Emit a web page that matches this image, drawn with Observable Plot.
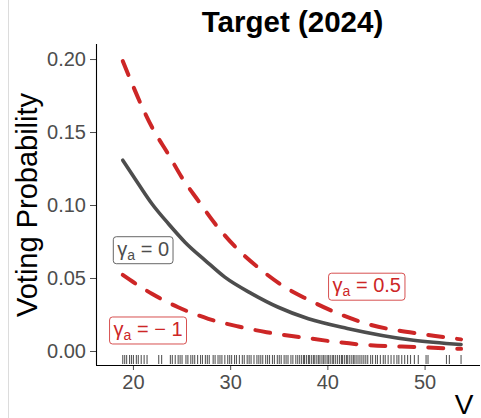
<!DOCTYPE html>
<html><head><meta charset="utf-8">
<script src="https://cdn.jsdelivr.net/npm/d3@7"></script>
<script src="https://cdn.jsdelivr.net/npm/@observablehq/plot@0.6"></script>
<style>
html,body{margin:0;padding:0;background:#fff;}
#wrap{position:relative;width:481px;height:418px;overflow:hidden;}
#edge{position:absolute;left:8px;top:0;width:1px;height:418px;background:#dcdcdc;}
#wrap svg{position:absolute;left:0;top:0;}
</style></head><body><div id="wrap"><div id="edge"></div></div>
<script>
// ---- text ----
const title = "Target (2024)";
const xLabel = "V";
const yLabel = "Voting Probability";
const xTicks = [20, 30, 40, 50];
const yTicks = [0, 0.05, 0.10, 0.15, 0.20];
const yTickLabels = ["0.00", "0.05", "0.10", "0.15", "0.20"];

// ---- curves ----
const vHigh = [18.9, 22.0, 23.6, 25.0, 26.7, 28.4, 30.5, 32.8, 35.6, 37.8, 44.0, 50.2, 53.7];
const pHigh = [0.199, 0.1525, 0.135, 0.119, 0.103, 0.0875, 0.0715, 0.0577, 0.044, 0.0361, 0.019, 0.0114, 0.0083];
const vZero = [18.9, 20.5, 21.9, 23.6, 25.3, 27.4, 29.4, 32.2, 34.9, 38.0, 42.0, 48.8, 53.7];
const pZero = [0.131, 0.1149, 0.1012, 0.0875, 0.0749, 0.0623, 0.0509, 0.0395, 0.0303, 0.0224, 0.0158, 0.0077, 0.0048];
const vLow = [18.9, 21.9, 24.6, 27.7, 30.8, 33.7, 37.2, 43.3, 49.5, 53.7];
const pLow = [0.0525, 0.0395, 0.0303, 0.0224, 0.0171, 0.0132, 0.0098, 0.0048, 0.0029, 0.0018];

// ---- curve labels ----
const labelSym = ["γ", "γ", "γ"];
const labelSub = ["a", "a", "a"];
const labelVal = ["0", "0.5", "\u2212 1"];
const labelV = [21.0, 44.0, 21.5];
const labelP = [0.070, 0.045, 0.015];
const labelKind = ["zero", "red", "red"];

// ---- rug of observed V ----
const rugV = [18.9, 19.1, 19.3, 19.6, 19.8, 20.0, 20.3, 20.5, 20.8, 21.1, 21.4,
  22.6, 22.9,
  23.8, 24.0, 24.3, 24.6, 24.8, 25.0, 25.4, 25.6, 25.9, 26.1, 26.3, 26.6, 26.9,
  27.1, 27.4, 27.6, 27.8, 28.2, 28.4, 28.7, 28.9, 29.1, 29.4, 29.7,
  29.9, 30.1, 30.4, 30.6, 30.9, 31.2, 31.4, 31.7, 31.9, 32.1, 32.4, 32.7,
  32.9, 33.1, 33.3, 33.6, 33.8, 34.0, 34.3, 34.5, 34.8,
  35.0, 35.2, 35.5, 35.7, 35.9, 36.2, 36.4, 36.7, 36.9, 37.1,
  37.3, 37.5, 37.6, 37.8, 38.0, 38.1, 38.3, 38.5, 38.6, 38.8, 39.0, 39.1, 39.3, 39.5, 39.6, 39.8,
  40.0, 40.1, 40.3, 40.5, 40.6, 40.8, 41.0, 41.2,
  41.4, 41.5, 41.7, 41.9, 42.0, 42.2, 42.4, 42.6, 42.7, 42.9, 43.1, 43.3, 43.5, 43.7, 43.9,
  44.1, 44.4, 44.6, 44.9, 45.1, 45.4, 45.7, 45.9, 46.2, 46.5, 46.8, 47.1, 47.3,
  47.6, 47.9, 48.2, 48.5, 48.9, 49.3,
  50.1, 50.3,
  52.2, 52.5,
  53.7];

const xDomain = [16.2, 55.7];
const yDomain = [-0.0096, 0.2103];
const red = "#cd2626";
const dark = "#4d4d4d";

const toRows = (V, P) => V.map((v, i) => ({v, p: P[i]}));
const labels = labelV.map((v, i) => ({v, p: labelP[i], text: labelSym[i] + labelSub[i] + " = " + labelVal[i], kind: labelKind[i], i}));

const chart = Plot.plot({
  width: 481, height: 418,
  marginLeft: 96, marginRight: 1, marginTop: 44, marginBottom: 53,
  x: {domain: xDomain},
  y: {domain: yDomain},
  style: {fontFamily: "'Liberation Sans', Arial, Helvetica, sans-serif", background: "transparent", overflow: "visible"},
  marks: [
    Plot.axisX({ticks: xTicks, tickSize: 5, tickPadding: 4, fontSize: 20, color: dark, label: null, tickFormat: d => String(d)}),
    Plot.axisY({ticks: yTicks, tickSize: 6, tickPadding: 4.5, fontSize: 20, color: dark, label: null, tickFormat: d => yTickLabels[yTicks.indexOf(d)]}),
    Plot.ruleY([yDomain[0]], {stroke: "black", strokeWidth: 1.1}),
    Plot.ruleX([xDomain[0]], {stroke: "black", strokeWidth: 1.1}),
    Plot.tickX(rugV, {x: d => d, stroke: "#222", strokeOpacity: 0.75, strokeWidth: 1.1, insetTop: 311, insetBottom: 1}),
    Plot.line(toRows(vLow, pLow), {x: "v", y: "p", stroke: red, strokeWidth: 4, strokeDasharray: "15,14", curve: "monotone-x"}),
    Plot.line(toRows(vHigh, pHigh), {x: "v", y: "p", stroke: red, strokeWidth: 4, strokeDasharray: "15,14", curve: "monotone-x"}),
    Plot.line(toRows(vZero, pZero), {x: "v", y: "p", stroke: dark, strokeWidth: 3.6, curve: "monotone-x"}),
    Plot.text(labels, {x: "v", y: "p", text: "text", fontSize: 20, textAnchor: "middle", lineAnchor: "middle",
      fill: d => d.kind === "red" ? red : dark}),
    Plot.text([title], {frameAnchor: "top", lineAnchor: "bottom", dx: 4, dy: -13, fontSize: 29.5, fontWeight: "bold", fill: "black"}),
    Plot.text([yLabel], {frameAnchor: "left", textAnchor: "middle", rotate: -90, dx: -69, fontSize: 29, fill: "black"}),
    Plot.text([xLabel], {frameAnchor: "bottom-right", textAnchor: "end", lineAnchor: "bottom", dx: -7, dy: 48, fontSize: 28, fill: "black"})
  ]
});
document.getElementById("wrap").appendChild(chart);

// rewrite curve labels with a real subscript and draw their rounded boxes
d3.select(chart).selectAll("text").filter(function() { return this.textContent.startsWith("γ"); })
  .each(function() {
    const t = d3.select(this);
    const idx = labels.findIndex(l => l.text === this.textContent);
    const L = labels[idx];
    t.text(null);
    t.append("tspan").text(labelSym[idx]);
    t.append("tspan").attr("font-size", 14).attr("dy", 4).text(labelSub[idx]);
    t.append("tspan").attr("dy", -4).text(" = " + labelVal[idx]);
    const bb = this.getBBox();
    const col = L.kind === "red" ? red : "#666";
    d3.select(this.parentNode).insert("rect", () => this)
      .attr("transform", t.attr("transform"))
      .attr("x", bb.x - 4).attr("y", bb.y - 1)
      .attr("width", bb.width + 8).attr("height", bb.height + 2)
      .attr("rx", 3).attr("ry", 3)
      .attr("fill", "white").attr("stroke", col).attr("stroke-opacity", L.kind === "red" ? 0.8 : 1).attr("stroke-width", 1);
  });
</script>
</body></html>
